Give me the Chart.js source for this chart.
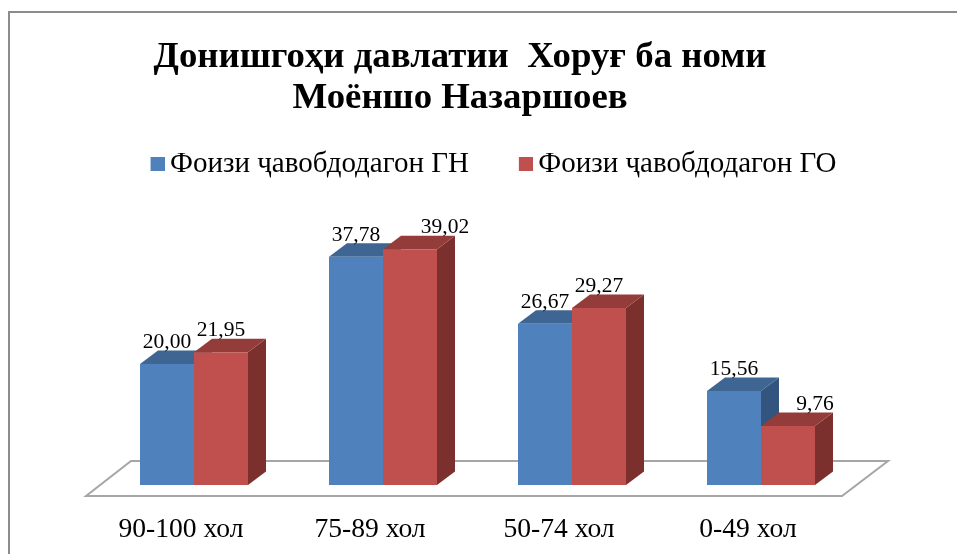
<!DOCTYPE html>
<html>
<head>
<meta charset="utf-8">
<style>html,body{margin:0;padding:0;background:#fff}canvas{display:block}</style>
<script src="https://cdn.jsdelivr.net/npm/chart.js@4"></script>
</head>
<body>
<canvas id="c" width="957" height="554"></canvas>
<script>
const titleLines = ["Донишгоҳи давлатии  Хоруғ ба номи", "Моёншо Назаршоев"];
const categories = ["90-100 хол", "75-89 хол", "50-74 хол", "0-49 хол"];
const seriesNames = ["Фоизи ҷавобдодагон ГН", "Фоизи ҷавобдодагон ГО"];
const valuesGN = [20.00, 37.78, 26.67, 15.56];
const valuesGO = [21.95, 39.02, 29.27, 9.76];

const FONT = "'Liberation Serif','Times New Roman',serif";
const DEPTH_X = 18, DEPTH_Y = 13.5;
const FACES = [
  {front:"#4F81BD", top:"#3F6692", side:"#33547E"},
  {front:"#C0504D", top:"#933C3A", side:"#7C302E"}
];

function swatch(color){
  const s = document.createElement("canvas");
  s.width = 18; s.height = 14;
  const g = s.getContext("2d");
  g.fillStyle = color; g.fillRect(4,0,14,14);
  return s;
}

// labels the reference nudges sideways, by dataset then category
const labelNudge = {"1:1":35, "1:3":27};

const scene3d = {
  id:"scene3d",
  afterLayout(chart){
    chart.titleBlock.left -= 18.5; chart.titleBlock.right -= 18.5;
    chart.legend.left += 17.5; chart.legend.right += 17.5;
    chart.legend.top -= 24.5; chart.legend.bottom -= 24.5;
  },
  beforeDraw(chart){
    const c = chart.ctx;
    c.save();
    c.fillStyle="#fff"; c.fillRect(0,0,chart.width,chart.height);
    c.strokeStyle="#8C8C8C"; c.lineWidth=2;
    c.beginPath(); c.moveTo(9,chart.height); c.lineTo(9,12); c.lineTo(chart.width,12); c.stroke();
    c.restore();
  },
  beforeDatasetsDraw(chart){
    const c = chart.ctx, a = chart.chartArea;
    c.save();
    c.strokeStyle="#A6A6A6"; c.lineWidth=2; c.lineJoin="miter";
    c.beginPath();
    c.moveTo(a.left-13.5,a.bottom+11);
    c.lineTo(a.left+31.5,a.bottom-24);
    c.lineTo(a.right+32.5,a.bottom-24);
    c.lineTo(a.right-13.5,a.bottom+11);
    c.closePath(); c.stroke();
    chart.data.datasets.forEach((ds,i)=>{
      const f = FACES[i];
      chart.getDatasetMeta(i).data.forEach(b=>{
        const l=b.x-b.width/2, r=b.x+b.width/2, t=b.y, bt=b.base;
        c.fillStyle=f.side;
        c.beginPath(); c.moveTo(r,t); c.lineTo(r+DEPTH_X,t-DEPTH_Y); c.lineTo(r+DEPTH_X,bt-DEPTH_Y); c.lineTo(r,bt); c.closePath(); c.fill();
        c.fillStyle=f.top;
        c.beginPath(); c.moveTo(l,t); c.lineTo(l+DEPTH_X,t-DEPTH_Y); c.lineTo(r+DEPTH_X,t-DEPTH_Y); c.lineTo(r,t); c.closePath(); c.fill();
      });
    });
    c.restore();
  },
  afterDatasetsDraw(chart){
    const c = chart.ctx;
    c.save();
    c.font = "21.5px "+FONT; c.fillStyle="#000"; c.textAlign="center"; c.textBaseline="alphabetic";
    chart.data.datasets.forEach((ds,i)=>{
      chart.getDatasetMeta(i).data.forEach((b,j)=>{
        const shift = labelNudge[i+":"+j] || 0;
        c.fillText(ds.data[j].toFixed(2).replace(".",","), b.x+shift, b.y-16);
      });
    });
    c.restore();
  }
};

const hiddenAxis = {ticks:{display:false},grid:{display:false},border:{display:false}};

new Chart(document.getElementById("c"),{
  type:"bar",
  data:{labels:categories,datasets:[
    {label:seriesNames[0],data:valuesGN,backgroundColor:FACES[0].front,borderWidth:0,categoryPercentage:0.5714,barPercentage:1},
    {label:seriesNames[1],data:valuesGO,backgroundColor:FACES[1].front,borderWidth:0,categoryPercentage:0.5714,barPercentage:1}
  ]},
  plugins:[scene3d],
  options:{
    responsive:false,animation:false,
    layout:{padding:{left:0,right:0,top:37.5,bottom:0},autoPadding:false},
    plugins:{
      tooltip:{enabled:false},
      title:{display:true,text:titleLines,color:"#000",
        font:{family:FONT,size:36.8,weight:"bold",lineHeight:1.11},padding:{top:0,bottom:0}},
      legend:{display:true,position:"top",
        labels:{font:{family:FONT,size:29},color:"#000",usePointStyle:true,
          pointStyleWidth:0.01,boxHeight:14,padding:55,
          generateLabels(chart){
            return Chart.defaults.plugins.legend.labels.generateLabels(chart).map((it,i)=>{
              it.pointStyle = swatch(FACES[i].front);
              return it;
            });
          }}}
    },
    scales:{
      x:{grid:{display:false},border:{display:false},
        afterFit(s){ s.height = 69; },
        ticks:{font:{family:FONT,size:27.6},color:"#000",labelOffset:-13,padding:20,maxRotation:0}},
      y:{...hiddenAxis,position:"left",min:0,max:44.97,afterFit(s){ s.width = 99.5; }},
      y1:{...hiddenAxis,position:"right",min:0,max:44.97,afterFit(s){ s.width = 101.5; }}
    }
  }
});
</script>
</body>
</html>
